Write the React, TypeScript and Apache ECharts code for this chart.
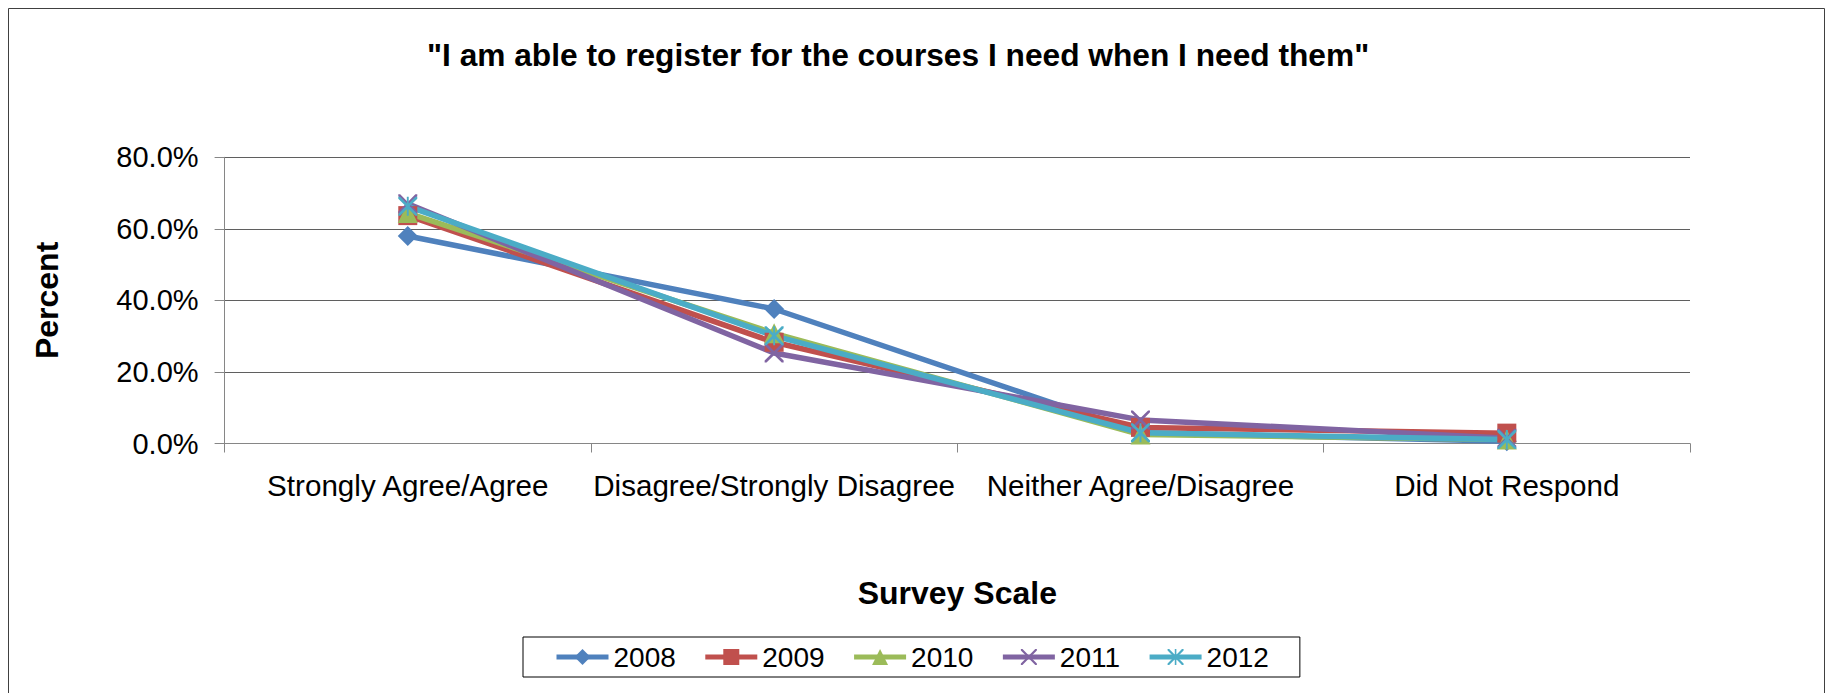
import React, { useEffect, useRef } from "react";
import * as echarts from "echarts";

const categories = [
  "Strongly Agree/Agree",
  "Disagree/Strongly Disagree",
  "Neither Agree/Disagree",
  "Did Not Respond",
];
const years = ["2008", "2009", "2010", "2011", "2012"];
const values2008 = [58.0, 37.6, 3.0, 0.6];
const values2009 = [63.7, 28.3, 4.5, 2.9];
const values2010 = [64.4, 30.8, 2.5, 1.1];
const values2011 = [67.0, 25.3, 6.6, 1.5];
const values2012 = [66.3, 30.1, 3.0, 1.1];
const yTicks = [0, 20, 40, 60, 80];

const titleText = '"I am able to register for the courses I need when I need them"';
const FONT = "'Liberation Sans', Arial, sans-serif";

const X_PATH =
  "path://M0,0 L2,0 L10,8 L18,0 L20,0 L20,2 L12,10 L20,18 L20,20 L18,20 L10,12 L2,20 L0,20 L0,18 L8,10 L0,2 Z";
const STAR_PATH =
  "path://M0,0 L2,0 L10,8 L18,0 L20,0 L20,2 L12,10 L20,18 L20,20 L18,20 L10,12 L2,20 L0,20 L0,18 L8,10 L0,2 Z M9,0 L11,0 L11,20 L9,20 Z";

export default function App() {
  const ref = useRef<HTMLDivElement>(null);

  useEffect(() => {
    if (!ref.current) return;
    const chart = echarts.init(ref.current, undefined, { renderer: "svg" });
    const seriesData = [values2008, values2009, values2010, values2011, values2012];
    const colors = ["#4F81BD", "#C0504D", "#9BBB59", "#8064A2", "#4BACC6"];
    const symbols = ["diamond", "rect", "triangle", X_PATH, STAR_PATH];
    const sizes = [20, 19, 20, 19, 19];

    chart.setOption({
      animation: false,
      backgroundColor: "#ffffff",
      title: {
        text: titleText,
        left: 427,
        top: 39,
        padding: 0,
        textStyle: { fontFamily: FONT, fontSize: 31.7, fontWeight: "bold", color: "#000" },
      },
      graphic: [
        {
          type: "polyline",
          shape: { points: [[8.5, 693], [8.5, 8.5], [1824.5, 8.5], [1824.5, 693]] },
          style: { stroke: "#404040", lineWidth: 1, fill: "none" },
          silent: true,
        },
      ],
      legend: {
        left: 523,
        top: 637,
        padding: [6, 31],
        itemGap: 27,
        itemWidth: 52,
        itemHeight: 20,
        borderColor: "#000",
        borderWidth: 1,
        data: years,
        lineStyle: { width: 5 },
        textStyle: { fontFamily: FONT, fontSize: 28, color: "#000", padding: [0, 0, 0, 0] },
      },
      grid: { left: 224.6, right: 144, top: 157.3, bottom: 249.5 },
      xAxis: {
        type: "category",
        data: categories,
        boundaryGap: true,
        name: "Survey Scale",
        nameLocation: "middle",
        nameGap: 133,
        nameTextStyle: { fontFamily: FONT, fontSize: 32, fontWeight: "bold", color: "#000" },
        axisLine: { lineStyle: { color: "#868686", width: 1 } },
        axisTick: { show: true, length: 9, inside: false, alignWithLabel: false, lineStyle: { color: "#868686" } },
        axisLabel: { fontFamily: FONT, fontSize: 29.6, color: "#000", margin: 27, interval: 0 },
        splitLine: { show: false },
      },
      yAxis: {
        type: "value",
        min: yTicks[0],
        max: yTicks[yTicks.length - 1],
        interval: 20,
        name: "Percent",
        nameLocation: "middle",
        nameRotate: 90,
        nameGap: 162,
        nameTextStyle: { fontFamily: FONT, fontSize: 32, fontWeight: "bold", color: "#000" },
        axisLine: { show: true, lineStyle: { color: "#868686", width: 1 } },
        axisTick: { show: true, length: 10, inside: false, lineStyle: { color: "#868686" } },
        axisLabel: {
          fontFamily: FONT,
          fontSize: 29,
          color: "#000",
          margin: 26,
          formatter: (v: number) => v.toFixed(1) + "%",
        },
        splitLine: { show: true, lineStyle: { color: "#5f5f5f", width: 1 } },
      },
      series: years.map((y, i) => ({
        name: y,
        type: "line",
        data: seriesData[i],
        symbol: symbols[i],
        symbolSize: sizes[i],
        showAllSymbol: true,
        lineStyle: { color: colors[i], width: 5.5 },
        itemStyle: { color: colors[i], borderWidth: 0 },
        emphasis: { disabled: true },
      })),
    });

    return () => chart.dispose();
  }, []);

  return (
    <div style={{ position: "fixed", left: 0, top: 0, width: 1834, height: 693, background: "#fff" }}>
      <div ref={ref} style={{ width: 1834, height: 693 }} />
    </div>
  );
}
